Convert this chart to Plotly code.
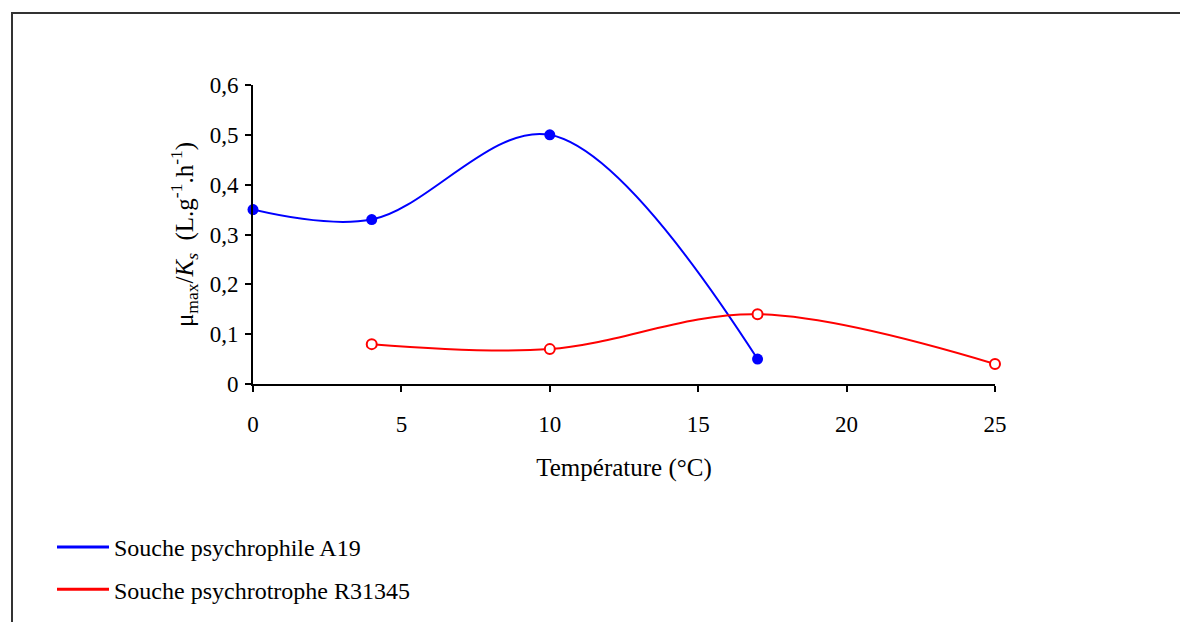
import plotly.graph_objects as go

# Data
temp_a19 = [0, 4, 10, 17]
val_a19 = [0.35, 0.33, 0.50, 0.05]
temp_r31 = [4, 10, 17, 25]
val_r31 = [0.08, 0.07, 0.14, 0.04]
name_a19 = "Souche psychrophile A19"
name_r31 = "Souche psychrotrophe R31345"
x_ticks = [0, 5, 10, 15, 20, 25]
y_ticks = [0, 0.1, 0.2, 0.3, 0.4, 0.5, 0.6]

FONT = "Liberation Serif, Times New Roman, serif"
BLUE = "#0000FF"
RED = "#FF0000"

fig = go.Figure()
fig.add_trace(go.Scatter(
    x=temp_a19, y=val_a19, mode="lines+markers", name=name_a19,
    line=dict(color=BLUE, width=2, shape="spline", smoothing=1),
    marker=dict(color=BLUE, size=11, symbol="circle"),
    cliponaxis=False, showlegend=False))
fig.add_trace(go.Scatter(
    x=temp_r31, y=val_r31, mode="lines+markers", name=name_r31,
    line=dict(color=RED, width=2, shape="spline", smoothing=1),
    marker=dict(color="white", size=10, symbol="circle", line=dict(color=RED, width=2)),
    cliponaxis=False, showlegend=False))
# legend-only entries (line symbols)
fig.add_trace(go.Scatter(x=[None], y=[None], mode="lines", name=name_a19,
                         line=dict(color=BLUE, width=3), legendgroup="a"))
fig.add_trace(go.Scatter(x=[None], y=[None], mode="lines", name=name_r31,
                         line=dict(color=RED, width=3), legendgroup="b"))

W, H = 1188, 622
# figure-pixel positions (page adds 8px body margin)
px_left, px_right, px_top, px_bottom = 245, 987, 77, 376
L, R, T, B = px_left, W - px_right, px_top, H - px_bottom
pw, ph = px_right - px_left, px_bottom - px_top

fig.update_layout(
    width=W, height=H,
    margin=dict(l=L, r=R, t=T, b=B),
    paper_bgcolor="white", plot_bgcolor="white",
    separators=", ",
    font=dict(family=FONT, size=23, color="black"),
    showlegend=True,
    legend=dict(x=(44 - px_left) / pw, y=(px_bottom - 517) / ph, xanchor="left", yanchor="top",
                font=dict(family=FONT, size=24), tracegroupgap=8, itemwidth=52,
                bgcolor="rgba(0,0,0,0)"),
    xaxis=dict(range=[0, 25], tickvals=x_ticks, showline=True, linecolor="black", linewidth=2,
               ticks="outside", ticklen=6, tickwidth=2, tickcolor="black", showgrid=False,
               zeroline=False, ticklabelstandoff=12, tickfont=dict(family=FONT, size=23),
               title=dict(text="Température (°C)", standoff=23, font=dict(family=FONT, size=25))),
    yaxis=dict(range=[0, 0.6], tickvals=y_ticks, showline=True, linecolor="black", linewidth=2,
               ticks="outside", ticklen=6, tickwidth=2, tickcolor="black", showgrid=False,
               zeroline=False, ticklabelstandoff=2, tickfont=dict(family=FONT, size=23),
               title=dict(text="μ<sub>max</sub>/<i>K<sub>s</sub></i>  (L.g<sup>-1</sup>.h<sup>-1</sup>)",
                          standoff=9, font=dict(family=FONT, size=25))),
)

# outer frame
fig.add_shape(type="rect", xref="paper", yref="paper",
              x0=(4 - px_left) / pw, x1=(1200 - px_left) / pw,
              y0=(px_bottom - 640) / ph, y1=(px_bottom - 5) / ph,
              line=dict(color="#333333", width=2), layer="below")

fig.write_html("out.html")
